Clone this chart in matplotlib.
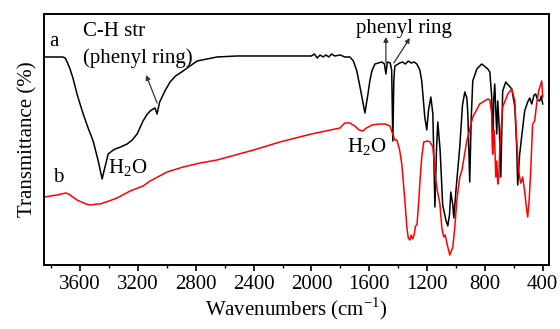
import matplotlib
matplotlib.use('Agg')
import matplotlib.pyplot as plt
import numpy as np

plt.rcParams['font.family'] = ['Liberation Serif', 'DejaVu Serif']
plt.rcParams['mathtext.fontset'] = 'custom'
plt.rcParams['mathtext.rm'] = 'Liberation Serif'

# curve a (black), wavenumber / transmittance (arbitrary units)
wn_a = [3850, 3720, 3704, 3690, 3670, 3648, 3620, 3579, 3545, 3510, 3475, 3448, 3430, 3406,
        3380, 3358, 3320, 3275, 3240, 3206, 3165, 3140, 3116,
        3095, 3082, 3068, 3050, 3033, 3010, 2978, 2940, 2888, 2840, 2791, 2720, 2653, 2515, 2377, 2000,
        1980, 1960, 1940, 1920, 1900, 1880, 1860, 1840, 1800, 1770, 1734, 1710, 1686, 1660,
        1630, 1610, 1596, 1582, 1561, 1513, 1495, 1485, 1475, 1455, 1445, 1437, 1430,
        1423, 1389, 1370, 1350, 1330, 1310, 1290, 1271, 1250, 1237, 1216, 1202, 1190,
        1174, 1160, 1146, 1135, 1126, 1110, 1092, 1070, 1057, 1045, 1036, 1022, 1015,
        1000, 974, 955, 939, 925, 918, 905, 895, 884, 856, 822, 780, 766, 753, 746,
        739, 732, 718, 711, 700, 690, 677, 656, 614, 593, 580, 573, 560, 546, 525,
        504, 490, 476, 460, 449, 435, 421, 410, 400]
tr_a = [208, 208, 207, 203, 196, 186, 170, 151, 137, 124, 104, 86, 97, 111,
        114, 116, 118, 121, 125, 131, 144, 150, 154,
        156, 157, 151, 163, 168, 175, 183, 189, 194, 199, 204, 206, 208, 209, 209, 209,
        211, 207, 210, 208, 210, 208, 211, 209, 210, 208, 208, 204, 194, 175,
        152, 170, 184, 194, 201, 203, 201, 191, 203, 202, 195, 124, 185,
        199, 202, 203, 201, 204, 202, 203, 201, 195, 184, 148, 135, 155,
        168, 151, 58, 115, 143, 115, 60, 45, 39, 50, 73, 60, 47,
        75, 118, 160, 173, 167, 151, 83, 145, 184, 196, 201, 196, 193, 168, 111,
        165, 181, 131, 164, 135, 88, 174, 183, 176, 158, 118, 80, 110, 128, 154,
        163, 167, 161, 170, 171, 165, 164, 169, 161]

# curve b (red)
wn_b = [3850, 3760, 3700, 3680, 3621, 3560, 3531, 3483, 3462, 3400, 3345, 3254, 3165, 3116, 2999,
        2888, 2770, 2653, 2400, 2218, 2000, 1900, 1803, 1769, 1734, 1700, 1670, 1644,
        1620, 1580, 1527, 1490, 1457, 1423, 1409, 1390, 1375, 1354, 1340, 1330, 1320,
        1310, 1300, 1290, 1280, 1270, 1257, 1250, 1237, 1223, 1195, 1180, 1160, 1140,
        1126, 1112, 1098, 1085, 1075, 1060, 1043, 1030, 1022, 1008, 994, 974, 960,
        925, 884, 836, 780, 766, 753, 746, 739, 732, 725, 718, 711, 704, 697, 677,
        642, 614, 593, 580, 566, 553, 546, 539, 525, 515, 504, 494, 484, 470, 456,
        442, 428, 407, 400]
tr_b = [68, 70, 72, 71, 65, 61, 60, 61, 61, 64, 67, 74, 79, 84, 93,
        98, 102, 105, 115, 123, 131, 134, 137, 142, 142, 139, 135, 134,
        137, 140, 141, 141, 139, 125, 125, 115, 101, 65, 38, 27, 25,
        30, 26, 30, 39, 40, 65, 82, 108, 123, 124, 123, 118, 85,
        72, 62, 37, 28, 30, 20, 10, 15, 18, 38, 65, 88, 94,
        124, 148, 161, 166, 165, 151, 111, 135, 124, 88, 104, 81, 87, 118, 158,
        171, 176, 164, 124, 94, 82, 84, 88, 74, 60, 48, 65, 91, 141, 144,
        161, 174, 184, 168]

xticks = [3600, 3200, 2800, 2400, 2000, 1600, 1200, 800, 400]

fig = plt.figure(figsize=(5.6, 3.29), dpi=100, facecolor='white')
ax = fig.add_axes([0.0786, 0.1945, 0.9014, 0.763])

ax.plot(wn_a, tr_a, color='black', linewidth=1.1)
ax.plot(wn_b, tr_b, color='#ff0000', linewidth=1.1)

ax.set_xlim(3850, 358)
ax.set_ylim(0, 251)
ax.set_xticks(xticks)
ax.set_xticks(np.arange(3800, 358, -200), minor=True)
ax.set_yticks([])
ax.tick_params(axis='x', which='major', direction='out', length=4, width=1.2,
               labelsize=15, pad=3)
ax.tick_params(axis='x', which='minor', direction='out', length=2.5, width=1.0)
for sp in ax.spines.values():
    sp.set_linewidth(1.4)

ax.set_xlabel('Wavenumbers (cm$^{-1}$)', fontsize=15, labelpad=1)
ax.set_ylabel('Transmittance (%)', fontsize=15, labelpad=5)

fs = 15
ax.text(3780, 223, 'a', fontsize=fs, ha='center', va='center')
ax.text(3752, 88, 'b', fontsize=fs, ha='center', va='center')
ax.text(3579, 233, 'C-H str', fontsize=fs, ha='left', va='center')
ax.text(3579, 207, '(phenyl ring)', fontsize=fs, ha='left', va='center')
ax.text(3406, 92, 'H$_2$O', fontsize=fs, ha='left', va='baseline')
ax.text(1755, 113, 'H$_2$O', fontsize=fs, ha='left', va='baseline')
ax.text(1361, 232, 'phenyl ring', fontsize=fs, ha='center', va='baseline')

arrow = dict(arrowstyle='-|>', color='#333333', lw=0.9, mutation_scale=7,
             shrinkA=0, shrinkB=0)
ax.annotate('', xy=(3144, 190), xytext=(3068, 162), arrowprops=arrow)
ax.annotate('', xy=(1485, 228), xytext=(1485, 202), arrowprops=arrow)
ax.annotate('', xy=(1319, 227), xytext=(1430, 202), arrowprops=arrow)

fig.savefig('out.png', dpi=100)
